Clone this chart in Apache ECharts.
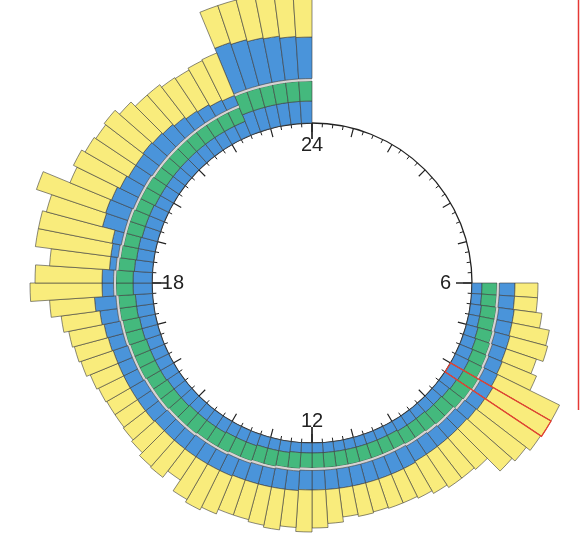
<!DOCTYPE html>
<html><head><meta charset="utf-8">
<script src="https://cdn.jsdelivr.net/npm/echarts@6/dist/echarts.min.js"></script>
<style>html,body{margin:0;padding:0;background:#fff}#c{width:582px;height:536px}</style>
</head><body><div id="c"></div>
<script>
// 15-minute slots from 6:00 to 23:45 (72 bars); values are radial lengths
const innerBlue = [10,10,11,11,12,13,14,15,15,14,13,12,12,11,11,11,10,10,10,10,10,10,10,10,
  10,10,11,11,11,12,12,12,13,13,13,13,14,14,14,15,15,15,15,16,16,17,17,19,
  19,18,17,17,16,16,16,15,15,15,15,15,15,15,15,15,15,15,22,22,22,22,22,22];
const green = [15,15,15,15,15,15,15,15,17,17,17,16,16,16,15,15,15,15,15,15,15,15,15,15,
  15,16,15,16,16,16,16,17,16,16,17,17,16,17,17,16,17,17,17,17,17,17,17,17,
  17,16,16,15,16,16,15,16,16,15,15,15,15,15,15,15,15,15,20,20,20,20,20,20];
const separator = [2.5,2.5,2.5,2.5,2.5,2.5,2.5,2.5,2.5,2.5,2.5,2.5,2.5,2.5,2.5,2.5,2.5,2.5,2.5,2.5,2.5,2.5,2.5,2.5,
  2.5,2.5,2.5,2.5,2.5,2.5,2.5,2.5,2.5,2.5,2.5,2.5,2.5,2.5,2.5,2.5,2.5,2.5,2.5,2.5,2.5,2.5,2.5,2.5,
  2.5,2.5,2.5,2.5,2.5,2.5,2.5,2.5,2.5,2.5,2.5,2.5,2.5,2.5,2.5,2.5,2.5,2.5,2.5,2.5,2.5,2.5,2.5,2.5];
const outerBlue = [15.5,15.5,15.5,15.5,15.5,14.5,14.5,14.5,14.5,14.5,14.5,15.5,15.5,16.5,17.5,17.5,19.5,19.5,19.5,19.5,19.5,19.5,19.5,19.5,
  19.5,19.5,19.5,18.5,18.5,17.5,18.5,17.5,17.5,17.5,16.5,16.5,16.5,16.5,16.5,16.5,15.5,15.5,15.5,15.5,16.5,17.5,21.5,11.5,
  11.5,6.5,7.5,9.5,22.5,23.5,23.5,20.5,18.5,19.5,20.5,19.5,18.5,16.5,14.5,13.5,11.5,10.5,49.5,47.5,45.5,44.5,42.5,41.5];
const yellow = [23,23,28,38,39,32,37,69,67,67,63,60,42,40,40,37,33,31,31,30,31,29,34,38,
  42,37,41,39,37,37,41,44,41,28,36,35,31,28,27,27,28,30,34,35,36,39,45,72,
  67,60,76,75,58,73,45,52,50,48,49,44,39,41,40,40,44,46,39,41,43,44,46,47];
const hourLabels = {0: '24', 6: '6', 12: '12', 18: '18'};
const highlightSlot = '8:00';
const firstSlot = '6:00';

// 96 quarter-hour categories around the clock
const slots = [];
for (let h = 0; h < 24; h++) for (let q = 0; q < 4; q++) slots.push(h + ':' + (q === 0 ? '00' : String(q * 15)));
const offset = slots.indexOf(firstSlot);
const pad = arr => slots.map((s, i) => (i >= offset && i - offset < arr.length) ? arr[i - offset] : null);

const layers = [innerBlue, green, separator, outerBlue, yellow];
const hlIdx = slots.indexOf(highlightSlot) - offset;
const hlTotal = layers.reduce((s, a) => s + a[hlIdx], 0);

const C = [312, 283];
const border = '#3c3c3c';
function mk(name, arr, color, bw) {
  return {
    type: 'bar', name, coordinateSystem: 'polar', polarIndex: 0, stack: 'day',
    data: pad(arr), barCategoryGap: '0%', barGap: '-100%', silent: true,
    itemStyle: {color, borderColor: border, borderWidth: bw}
  };
}
const series = [
  mk('innerBlue', innerBlue, '#4A94DA', 0.6),
  mk('green', green, '#44B97D', 0.6),
  mk('separator', separator, '#D6D3D3', 0),
  mk('outerBlue', outerBlue, '#4A94DA', 0.6),
  mk('yellow', yellow, '#F9EC7C', 0.6),
  {
    type: 'bar', name: 'highlight', coordinateSystem: 'polar', polarIndex: 0, stack: 'hl',
    data: slots.map(s => s === highlightSlot ? hlTotal : null),
    barCategoryGap: '0%', barGap: '-100%', silent: true, z: 5,
    itemStyle: {color: 'rgba(0,0,0,0)', borderColor: '#E8402F', borderWidth: 1.3}
  }
];

const base = {type: 'value', min: 0, max: 24, startAngle: 90, clockwise: true, splitLine: {show: false}};
const chart = echarts.init(document.getElementById('c'), null, {renderer: 'canvas'});
chart.setOption({
  animation: false,
  backgroundColor: '#fff',
  polar: [
    {center: C, radius: [160, 300]},
    {center: C, radius: 160},
    {center: C, radius: 160},
    {center: C, radius: 128}
  ],
  angleAxis: [
    {polarIndex: 0, type: 'category', data: slots, startAngle: 90, clockwise: true, boundaryGap: true,
     axisLine: {show: false}, axisTick: {show: false}, axisLabel: {show: false}, splitLine: {show: false}},
    Object.assign({}, base, {polarIndex: 1, interval: 1,
     axisLine: {show: true, lineStyle: {color: '#222', width: 1.3}},
     axisTick: {show: true, inside: true, length: 9, lineStyle: {color: '#222', width: 1.2}},
     minorTick: {show: true, splitNumber: 4, length: 4, lineStyle: {color: '#222', width: 1}},
     axisLabel: {show: false}}),
    Object.assign({}, base, {polarIndex: 2, interval: 6,
     axisLine: {show: false},
     axisTick: {show: true, inside: true, length: 16, lineStyle: {color: '#222', width: 1.7}},
     axisLabel: {show: false}}),
    Object.assign({}, base, {polarIndex: 3, interval: 6,
     axisLine: {show: false}, axisTick: {show: false},
     axisLabel: {show: true, margin: 0, fontSize: 20, color: '#222', fontFamily: 'Liberation Sans',
       formatter: v => hourLabels[v] !== undefined ? hourLabels[v] : ''}})
  ],
  radiusAxis: [
    {polarIndex: 0, type: 'value', min: 0, max: 140, show: false},
    {polarIndex: 1, type: 'value', show: false},
    {polarIndex: 2, type: 'value', show: false},
    {polarIndex: 3, type: 'value', show: false}
  ],
  graphic: [
    {type: 'line', shape: {x1: 578.5, y1: 0, x2: 578.5, y2: 410}, style: {stroke: '#E53935', lineWidth: 1.5}, silent: true}
  ],
  series
});
</script>
</body></html>
